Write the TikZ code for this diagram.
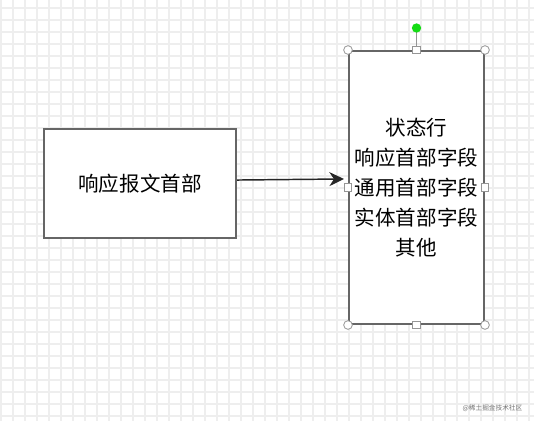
\documentclass[tikz,border=0pt]{standalone}
\usepackage{fontspec}
\usepackage{tikz}
\usetikzlibrary{arrows.meta,positioning}
\newfontfamily\cjk{Noto Sans CJK SC}
\definecolor{gridcol}{RGB}{238,238,238}
\definecolor{edgecol}{RGB}{102,102,102}
\definecolor{handlecol}{RGB}{150,150,150}
\definecolor{rotgreen}{RGB}{20,220,20}

\begin{document}
\begin{tikzpicture}[
      x=0.75pt,y=-0.75pt,>={Stealth[length=11pt,width=10.5pt,inset=3.5pt]},
      gridline/.style={draw=gridcol,line width=1.2pt},
      box/.style={rectangle,draw=edgecol,line width=1.5pt,fill=white,inner sep=0pt,align=center,
        font=\cjk\fontsize{15.4}{22.6}\selectfont},
      corner/.style={circle,draw=handlecol,fill=white,line width=0.6pt,minimum size=6.5pt,inner sep=0pt},
      mid/.style={rectangle,draw=handlecol,fill=white,line width=0.6pt,minimum size=5.5pt,inner sep=0pt},
      conn/.style={draw=black!85,line width=1.1pt,->}]
    \useasboundingbox (0,0) rectangle (534,421);
    \fill[white] (0,0) rectangle (534,421);
    % background grid
    \foreach \gx in {1,13,...,534} \draw[gridline] (\gx,0) -- (\gx,421);
    \foreach \gy in {8,20,...,421} \draw[gridline] (0,\gy) -- (534,\gy);
    % boxes
    \node[box,minimum width=144pt,minimum height=81.75pt] (head) at (140,183.5) {响应报文首部};
    \node[box,minimum width=101.25pt,minimum height=204.75pt] (parts) at (416.5,187.5)
      {状态行\\响应首部字段\\通用首部字段\\实体首部字段\\其他};
    \draw[conn] ([yshift=2.6pt]head.east) -- ([xshift=-3pt,yshift=6.4pt]parts.west);
    % selection handles
    \coordinate (rot) at (416.5,28);
    \draw[draw=handlecol,line width=0.8pt] (parts.north) -- (rot);
    \node[circle,fill=rotgreen,minimum size=7pt,inner sep=0pt] (rotdot) at (rot) {};
    \foreach \a in {north west,north east,south west,south east} \node[corner] (c-\a) at (parts.\a) {};
    \foreach \a in {north,south,west,east} \node[mid] (m-\a) at (parts.\a) {};
    \node[font=\cjk\fontsize{5}{6}\selectfont,text=black!55,anchor=east] (mark) at (527,408) {@稀土掘金技术社区};
  \end{tikzpicture}
\end{document}
